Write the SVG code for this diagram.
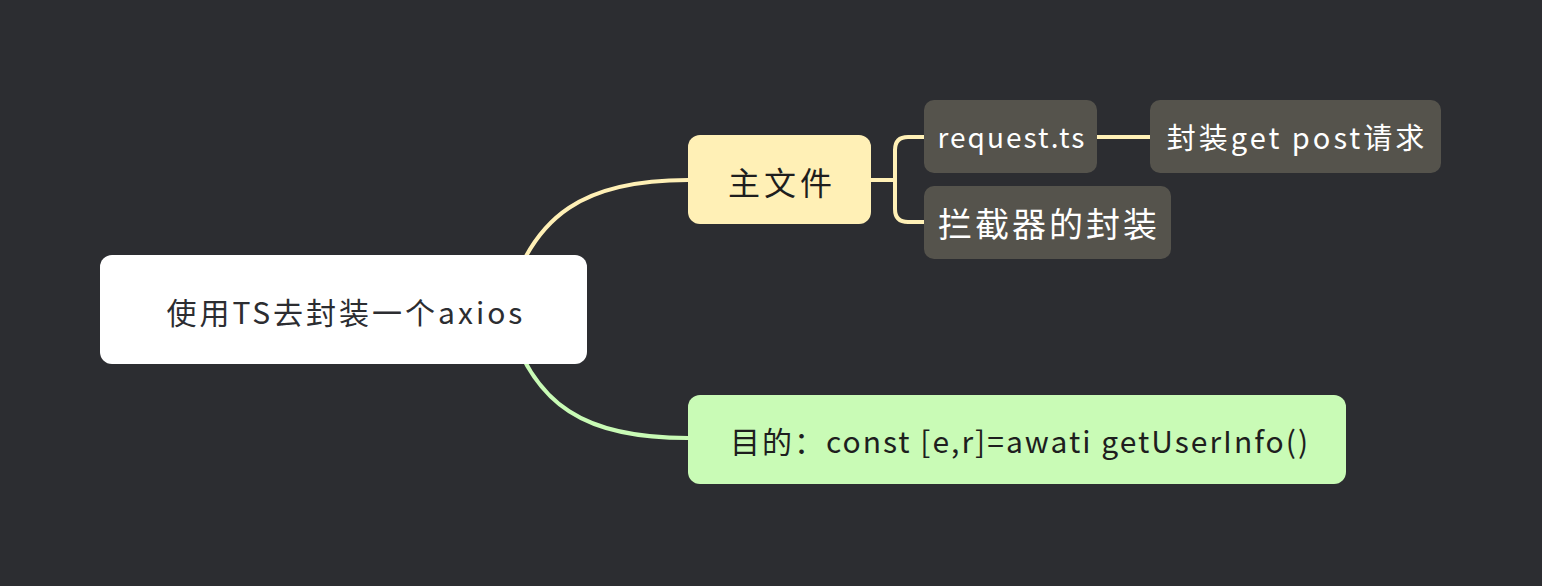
<svg xmlns="http://www.w3.org/2000/svg" width="1542" height="586" viewBox="0 0 1542 586">
<style>
.t{font-family:"Noto Sans CJK SC","Noto Sans",sans-serif;text-anchor:middle;dominant-baseline:central}
.sub{fill:#55534c}
.w{fill:#ffffff}
.c{fill:none;stroke-width:4;stroke-linecap:round}
</style>
<rect width="1542" height="586" fill="#2c2d31"/>
<g id="connectors">
<path class="c" stroke="#fff0b6" d="M505,312 C530,210 590,180 688,180"/>
<path class="c" stroke="#c9fbb6" d="M505,308 C530,410 590,438 688,438"/>
<path class="c" stroke="#fff0b6" stroke-width="3" d="M871,180 H895 M924,137 H908 Q895,137 895,150 V209 Q895,222 908,222 H924"/>
<path class="c" stroke="#fff0b6" stroke-width="3" d="M1097,137 H1150"/>
</g>
<g id="root">
<rect x="100" y="255" width="487" height="109" rx="12" fill="#ffffff"/>
<text class="t" x="346" y="311" font-size="30" letter-spacing="3" fill="#2c2d31">使用TS去封装一个axios</text>
</g>
<g id="main-file">
<rect x="688" y="135" width="183" height="89" rx="12" fill="#fff0b6"/>
<text class="t" x="782" y="181" font-size="32" letter-spacing="4" fill="#1e1e1e">主文件</text>
</g>
<g id="request-ts">
<rect class="sub" x="924" y="100" width="173" height="73" rx="10"/>
<text class="t w" x="1012" y="136" font-size="28" letter-spacing="2">request.ts</text>
</g>
<g id="wrap-get-post">
<rect class="sub" x="1150" y="100" width="291" height="73" rx="10"/>
<text class="t w" x="1297" y="136" font-size="29" letter-spacing="3">封装get post请求</text>
</g>
<g id="interceptor">
<rect class="sub" x="924" y="186" width="247" height="73" rx="10"/>
<text class="t w" x="1049" y="222" font-size="34" letter-spacing="3">拦截器的封装</text>
</g>
<g id="purpose">
<rect x="688" y="395" width="658" height="89" rx="12" fill="#c9fbb6"/>
<text class="t" x="1020" y="440" font-size="30" letter-spacing="2" fill="#1e1e1e">目的：const [e,r]=awati getUserInfo()</text>
</g>
</svg>
